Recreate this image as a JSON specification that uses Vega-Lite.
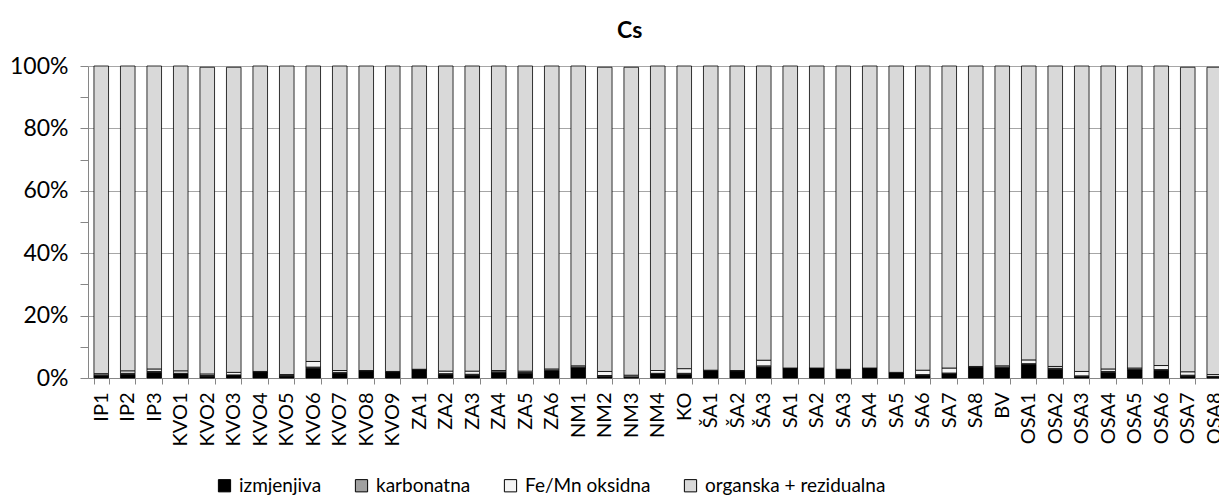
{
  "$schema": "https://vega.github.io/schema/vega-lite/v6.json",
  "autosize": {"type": "none"},
  "width": 1139.5,
  "height": 312,
  "padding": {"left": 88, "top": 66, "right": -8.5, "bottom": 120},
  "background": "#ffffff",
  "config": {
    "font": "Lato",
    "view": {"stroke": null},
    "title": {"font": "Lato", "fontSize": 23, "fontWeight": "bold", "color": "#000000"}
  },
  "title": {"text": "Cs", "anchor": "middle", "offset": 12, "dx": -28},
  "data": {
    "values": [
      {"site": "IP1", "izmjenjiva": 0.7, "karbonatna": 0.3, "Fe/Mn oksidna": 0.4, "organska + rezidualna": 98.6},
      {"site": "IP2", "izmjenjiva": 1.2, "karbonatna": 0.3, "Fe/Mn oksidna": 0.8, "organska + rezidualna": 97.7},
      {"site": "IP3", "izmjenjiva": 1.8, "karbonatna": 0.3, "Fe/Mn oksidna": 0.8, "organska + rezidualna": 97.1},
      {"site": "KVO1", "izmjenjiva": 1.3, "karbonatna": 0.2, "Fe/Mn oksidna": 0.8, "organska + rezidualna": 97.7},
      {"site": "KVO2", "izmjenjiva": 0.5, "karbonatna": 0.3, "Fe/Mn oksidna": 0.5, "organska + rezidualna": 98.3},
      {"site": "KVO3", "izmjenjiva": 0.8, "karbonatna": 0.2, "Fe/Mn oksidna": 0.8, "organska + rezidualna": 97.8},
      {"site": "KVO4", "izmjenjiva": 1.9, "karbonatna": 0.1, "Fe/Mn oksidna": 0.1, "organska + rezidualna": 97.9},
      {"site": "KVO5", "izmjenjiva": 0.6, "karbonatna": 0.3, "Fe/Mn oksidna": 0.2, "organska + rezidualna": 98.9},
      {"site": "KVO6", "izmjenjiva": 3.1, "karbonatna": 0.4, "Fe/Mn oksidna": 1.8, "organska + rezidualna": 94.7},
      {"site": "KVO7", "izmjenjiva": 1.5, "karbonatna": 0.3, "Fe/Mn oksidna": 0.6, "organska + rezidualna": 97.6},
      {"site": "KVO8", "izmjenjiva": 2.2, "karbonatna": 0.1, "Fe/Mn oksidna": 0.1, "organska + rezidualna": 97.6},
      {"site": "KVO9", "izmjenjiva": 1.9, "karbonatna": 0.1, "Fe/Mn oksidna": 0.1, "organska + rezidualna": 97.9},
      {"site": "ZA1", "izmjenjiva": 2.6, "karbonatna": 0.1, "Fe/Mn oksidna": 0.1, "organska + rezidualna": 97.2},
      {"site": "ZA2", "izmjenjiva": 1.1, "karbonatna": 0.3, "Fe/Mn oksidna": 0.8, "organska + rezidualna": 97.8},
      {"site": "ZA3", "izmjenjiva": 0.9, "karbonatna": 0.3, "Fe/Mn oksidna": 1.0, "organska + rezidualna": 97.8},
      {"site": "ZA4", "izmjenjiva": 1.7, "karbonatna": 0.3, "Fe/Mn oksidna": 0.4, "organska + rezidualna": 97.6},
      {"site": "ZA5", "izmjenjiva": 1.5, "karbonatna": 0.3, "Fe/Mn oksidna": 0.4, "organska + rezidualna": 97.8},
      {"site": "ZA6", "izmjenjiva": 2.3, "karbonatna": 0.2, "Fe/Mn oksidna": 0.4, "organska + rezidualna": 97.1},
      {"site": "NM1", "izmjenjiva": 3.2, "karbonatna": 0.3, "Fe/Mn oksidna": 0.4, "organska + rezidualna": 96.1},
      {"site": "NM2", "izmjenjiva": 0.6, "karbonatna": 0.2, "Fe/Mn oksidna": 1.3, "organska + rezidualna": 97.5},
      {"site": "NM3", "izmjenjiva": 0.2, "karbonatna": 0.2, "Fe/Mn oksidna": 0.5, "organska + rezidualna": 98.7},
      {"site": "NM4", "izmjenjiva": 1.3, "karbonatna": 0.2, "Fe/Mn oksidna": 0.9, "organska + rezidualna": 97.6},
      {"site": "KO", "izmjenjiva": 1.2, "karbonatna": 0.3, "Fe/Mn oksidna": 1.5, "organska + rezidualna": 97.0},
      {"site": "ŠA1", "izmjenjiva": 2.3, "karbonatna": 0.1, "Fe/Mn oksidna": 0.1, "organska + rezidualna": 97.5},
      {"site": "ŠA2", "izmjenjiva": 2.2, "karbonatna": 0.1, "Fe/Mn oksidna": 0.1, "organska + rezidualna": 97.6},
      {"site": "ŠA3", "izmjenjiva": 3.5, "karbonatna": 0.4, "Fe/Mn oksidna": 1.8, "organska + rezidualna": 94.3},
      {"site": "SA1", "izmjenjiva": 3.0, "karbonatna": 0.1, "Fe/Mn oksidna": 0.1, "organska + rezidualna": 96.8},
      {"site": "SA2", "izmjenjiva": 3.0, "karbonatna": 0.1, "Fe/Mn oksidna": 0.1, "organska + rezidualna": 96.8},
      {"site": "SA3", "izmjenjiva": 2.6, "karbonatna": 0.1, "Fe/Mn oksidna": 0.1, "organska + rezidualna": 97.2},
      {"site": "SA4", "izmjenjiva": 3.0, "karbonatna": 0.1, "Fe/Mn oksidna": 0.1, "organska + rezidualna": 96.8},
      {"site": "SA5", "izmjenjiva": 1.6, "karbonatna": 0.1, "Fe/Mn oksidna": 0.1, "organska + rezidualna": 98.2},
      {"site": "SA6", "izmjenjiva": 0.8, "karbonatna": 0.3, "Fe/Mn oksidna": 1.4, "organska + rezidualna": 97.5},
      {"site": "SA7", "izmjenjiva": 1.3, "karbonatna": 0.3, "Fe/Mn oksidna": 1.6, "organska + rezidualna": 96.8},
      {"site": "SA8", "izmjenjiva": 3.4, "karbonatna": 0.1, "Fe/Mn oksidna": 0.2, "organska + rezidualna": 96.3},
      {"site": "BV", "izmjenjiva": 3.2, "karbonatna": 0.3, "Fe/Mn oksidna": 0.4, "organska + rezidualna": 96.1},
      {"site": "OSA1", "izmjenjiva": 4.3, "karbonatna": 0.3, "Fe/Mn oksidna": 1.2, "organska + rezidualna": 94.2},
      {"site": "OSA2", "izmjenjiva": 2.8, "karbonatna": 0.3, "Fe/Mn oksidna": 0.6, "organska + rezidualna": 96.3},
      {"site": "OSA3", "izmjenjiva": 0.4, "karbonatna": 0.3, "Fe/Mn oksidna": 1.4, "organska + rezidualna": 97.9},
      {"site": "OSA4", "izmjenjiva": 1.8, "karbonatna": 0.3, "Fe/Mn oksidna": 0.8, "organska + rezidualna": 97.1},
      {"site": "OSA5", "izmjenjiva": 2.6, "karbonatna": 0.2, "Fe/Mn oksidna": 0.4, "organska + rezidualna": 96.8},
      {"site": "OSA6", "izmjenjiva": 2.4, "karbonatna": 0.3, "Fe/Mn oksidna": 1.3, "organska + rezidualna": 96.0},
      {"site": "OSA7", "izmjenjiva": 0.6, "karbonatna": 0.3, "Fe/Mn oksidna": 1.1, "organska + rezidualna": 97.6},
      {"site": "OSA8", "izmjenjiva": 0.3, "karbonatna": 0.2, "Fe/Mn oksidna": 0.6, "organska + rezidualna": 98.5}
    ]
  },
  "transform": [
    {"fold": ["izmjenjiva", "karbonatna", "Fe/Mn oksidna", "organska + rezidualna"], "as": ["frakcija", "udio"]},
    {"window": [{"op": "row_number", "as": "redoslijed"}], "groupby": ["site"]}
  ],
  "mark": {"type": "bar", "stroke": "#000000", "strokeWidth": 0.8},
  "encoding": {
    "x": {
      "field": "site",
      "type": "nominal",
      "sort": null,
      "title": null,
      "scale": {"paddingInner": 0.45, "paddingOuter": 0.225},
      "axis": {
        "labelAngle": -90,
        "labelFontSize": 20,
        "labelColor": "#000000",
        "labelPadding": 8,
        "tickBand": "extent",
        "tickSize": 6,
        "tickColor": "#868686",
        "domainColor": "#868686",
        "labelFont": "Lato"
      }
    },
    "y": {
      "field": "udio",
      "type": "quantitative",
      "stack": "zero",
      "title": null,
      "scale": {"domain": [0, 100], "nice": false},
      "axis": {
        "values": [0, 10, 20, 30, 40, 50, 60, 70, 80, 90, 100],
        "labelExpr": "datum.value % 20 === 0 ? datum.value + '%' : ''",
        "labelFontSize": 23,
        "labelColor": "#000000",
        "labelFont": "Lato",
        "labelPadding": 12,
        "tickSize": 8,
        "tickColor": "#868686",
        "domainColor": "#868686",
        "grid": true,
        "gridColor": "#a6a6a6",
        "gridOpacity": {"condition": {"test": "datum.value % 20 === 0", "value": 1}, "value": 0}
      }
    },
    "color": {
      "field": "frakcija",
      "type": "nominal",
      "sort": ["izmjenjiva", "karbonatna", "Fe/Mn oksidna", "organska + rezidualna"],
      "scale": {
        "domain": ["izmjenjiva", "karbonatna", "Fe/Mn oksidna", "organska + rezidualna"],
        "range": ["#000000", "#a0a0a0", "#f4f4f4", "#d9d9d9"]
      },
      "legend": {
        "title": null,
        "orient": "none",
        "direction": "horizontal",
        "legendX": 127,
        "legendY": 410,
        "symbolType": "square",
        "symbolSize": 150,
        "symbolStrokeColor": "#000000",
        "symbolStrokeWidth": 1,
        "labelFontSize": 19,
        "labelFont": "Lato",
        "labelColor": "#000000",
        "labelLimit": 400,
        "columnPadding": 30,
        "labelOffset": 5
      }
    },
    "order": {"field": "redoslijed", "type": "quantitative", "sort": "ascending"}
  }
}
